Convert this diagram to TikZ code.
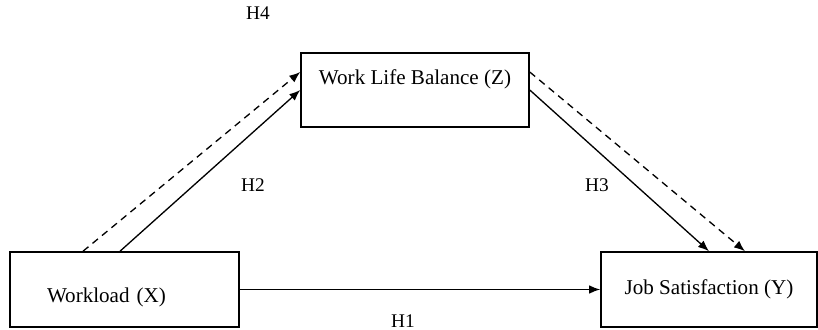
\documentclass[tikz,border=0pt]{standalone}
\usepackage{fontspec}
\setmainfont{Liberation Serif}
\usetikzlibrary{arrows.meta}

\begin{document}
\begin{tikzpicture}[
        % coordenadas en pixeles de la imagen
        x=0.02cm, y=-0.02cm,
        >={Latex[length=2.2mm,width=1.7mm]},
        var/.style={rectangle, draw, line width=0.9pt, minimum width=4.56cm, minimum height=1.5cm, font=\fontsize{12}{14}\selectfont},
        hyp/.style={font=\fontsize{11}{13}\selectfont},
        path/.style={->, line width=0.75pt},
        mediated/.style={dash pattern=on 4pt off 3pt}
    ]
        \useasboundingbox (0,0) rectangle (818,329);

        \node [var, minimum width=4.58cm, text width=3.1cm, inner xsep=0.74cm, align=left, text height=0.62cm] (workload) at (124.5,289.5) {Workload (X)};
        \node [var, minimum height=1.48cm, text depth=0.5cm] (balance) at (415,90) {Work Life Balance (Z)};
        \node [var, minimum width=4.32cm] (satisfaction) at (709,289.5) {Job Satisfaction (Y)};

        \node [hyp] (h1) at (403,321) {H1};
        \node [hyp] (h2) at (253,185) {H2};
        \node [hyp] (h3) at (597,185) {H3};
        \node [hyp] (h4) at (258,13) {H4};

        \draw[path] (workload.east) -- (satisfaction.west);
        \draw[path] ([xshift=-0.09cm]workload.north) -- (balance.west);
        \draw[path] (balance.east) -- (satisfaction.north);
        \draw[path, mediated] ([xshift=-0.83cm]workload.north) -- ([yshift=0.36cm]balance.west);
        \draw[path, mediated] ([yshift=0.36cm]balance.east) -- ([xshift=0.72cm]satisfaction.north);
    \end{tikzpicture}
\end{document}
